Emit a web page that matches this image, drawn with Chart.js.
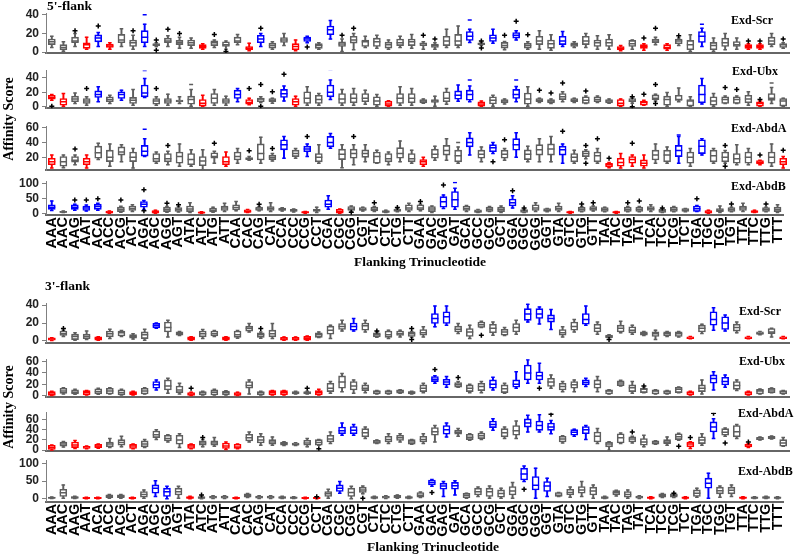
<!DOCTYPE html>
<html>
<head>
<meta charset="utf-8">
<script src="https://cdn.jsdelivr.net/npm/chart.js@4.4.0/dist/chart.umd.min.js"></script>
<style>
body { margin: 0; background: #fff; }
#wrap { position: relative; width: 797px; height: 557px; overflow: hidden; }
#wrap canvas { position: absolute; left: 0; top: 0; }
.t { position: absolute; font-family: "Liberation Serif", serif; font-weight: bold; color: #000; white-space: nowrap; line-height: 1; transform: translateY(-50%); }
.c { transform: translate(-50%, -50%); }
.v { transform: translate(-50%, -50%) rotate(-90deg); }
</style>
</head>
<body>
<div id="wrap">
  <canvas id="p1" width="797" height="557"></canvas>
  <canvas id="p2" width="797" height="557"></canvas>
  <canvas id="p3" width="797" height="557"></canvas>
  <canvas id="p4" width="797" height="557"></canvas>
  <canvas id="p5" width="797" height="557"></canvas>
  <canvas id="p6" width="797" height="557"></canvas>
  <canvas id="p7" width="797" height="557"></canvas>
  <canvas id="p8" width="797" height="557"></canvas>

  <div class="t" style="left:47px;top:6px;font-size:13.5px">5'-flank</div>
  <div class="t" style="left:45px;top:286px;font-size:13.5px">3'-flank</div>
  <div class="t v" style="left:9px;top:119px;font-size:14px">Affinity Score</div>
  <div class="t v" style="left:9px;top:407px;font-size:14px">Affinity Score</div>
  <div class="t c" style="left:420px;top:262px;font-size:13.5px">Flanking Trinucleotide</div>
  <div class="t c" style="left:433px;top:547px;font-size:13.5px">Flanking Trinucleotide</div>

  <div class="t" style="left:731px;top:20px;font-size:12px">Exd-Scr</div>
  <div class="t" style="left:732px;top:71px;font-size:12px">Exd-Ubx</div>
  <div class="t" style="left:731px;top:128px;font-size:12px">Exd-AbdA</div>
  <div class="t" style="left:731px;top:186px;font-size:12px">Exd-AbdB</div>
  <div class="t" style="left:739px;top:311px;font-size:12px">Exd-Scr</div>
  <div class="t" style="left:739px;top:361px;font-size:12px">Exd-Ubx</div>
  <div class="t" style="left:738px;top:413px;font-size:12px">Exd-AbdA</div>
  <div class="t" style="left:738px;top:471px;font-size:12px">Exd-AbdB</div>
</div>

<script>
const trinucs = ['AAA','AAC','AAG','AAT','ACA','ACC','ACG','ACT','AGA','AGC','AGG','AGT','ATA','ATC','ATG','ATT',
  'CAA','CAC','CAG','CAT','CCA','CCC','CCG','CCT','CGA','CGC','CGG','CGT','CTA','CTC','CTG','CTT',
  'GAA','GAC','GAG','GAT','GCA','GCC','GCG','GCT','GGA','GGC','GGG','GGT','GTA','GTC','GTG','GTT',
  'TAA','TAC','TAG','TAT','TCA','TCC','TCG','TCT','TGA','TGC','TGG','TGT','TTA','TTC','TTG','TTT'];

// each box: [lower whisker, q1, median, q3, upper whisker]
// colour code per trinucleotide: g = grey, r = red, b = blue

// ---- 5'-flank, Exd-Scr
const scr5Box = [[5,8,11,14,17],[1,2.5,5,8,11],[6,10,12,16,20],[3,4,8,10,16],[6,11,15,18.5,21],[3,5,6.5,8.5,10],[6,10,13,19,25],[3,6,10,13,18],
  [6,10,16,23,30],[6,7,8,9,10],[6,10,12,15,17.5],[4,8,10,12.5,16],[4,7,10,13,15],[3,4,6,8,9],[5,7,10,12,13],[3,6,8,11,12],
  [8,10,12,16,19],[1.5,2.5,4,6,9.6],[6,10,14,18,20],[3,4.3,7,9.6,11],[7,10.4,13,15.7,20],[1.5,2.5,6,9,13],[10,11.4,14,16,17],[3,4,7,9,10],
  [14,18.6,24,28,34],[0.7,6,8.6,11,14],[2.5,9.6,13,17,20],[5,6,11,13,17],[4,6,11,15,18],[3,4.3,8,10.7,13],[5,7,10,14,17],[4,7,11,14,19],
  [3,7,9,10,11],[3,5,7,8.6,10],[5,7,12,17,24.6],[5,7,12,19,28],[10.4,12.5,17,22,24.6],[7,8,9,10,10.5],[9.6,11.4,15,18.6,24.6],[2.5,4.3,7,10.4,11.4],
  [13,15,18,21,23],[3,4.3,7,9.6,11],[3,8,12,17,23],[2,4,9,13,18.6],[6,8,12,17,22],[5,6,8,10,11],[5,8,12,17,20],[3,6,10,13,17.5],
  [3,6,10,14,18.6],[1.5,2.5,4,6,7],[3,6,9,12.5,13],[2,4,6,8,9],[8,10,12,14,16],[2,3,5,8,9],[7,9,12,14,15],[0.7,2.5,8,12.5,18.6],
  [6,10.4,17,22,25.7],[0.7,2.5,7,10.4,15],[2.5,6,10,15,20],[3,6,8,11.4,15],[3,4,6,8,9],[3,4,6,8,9],[6,8,12,16,20],[4,5,8,9,10]];
const scr5Col = 'gggrbrgg' + 'bggggrgg' + 'grbggrbg' + 'bggggggg' + 'ggggbgbg' + 'bgggbggg' + 'grgrgrgg' + 'bgggrrgg';
const scr5Out = [[2,23],[4,28],[7,23],[9,13],[9,2],[10,24.5],[11,20],[14,19],[15,0.5],[18,25.7],[22,5.4],[25,18],[26,25.7],[32,18],
  [33,14],[37,12],[37,4.3],[39,18],[40,33],[41,18.6],[51,15],[52,25.7],[54,17.5],[60,12],[61,12],[63,14]];
const scr5Dash = [[8,40],[36,34.6],[56,30]];

// ---- 5'-flank, Exd-Ubx
const ubx5Box = [[9,10.6,13,16,17],[1,2.3,7,11.5,18.4],[4.6,7,11,14.7,19],[2.3,4.6,8,11.5,13.8],[7,13,17,22,27.6],[4.6,7,10,13.8,16],[9,11.5,17,20.7,23],[2.3,4.6,9,13,24],
  [13,13.8,19,30,39],[2.3,3.7,8,11.5,13.8],[2.3,4.6,8,11.5,17.5],[4.6,7,8,9.5,13.8],[1,3.7,10,14.7,24],[1,1,5,10,16],[2.3,4.6,12,18.4,24],[2.3,4.6,8,11.5,14.7],
  [7,11.5,17,23,25.3],[3,3.7,6,10,12],[6,7,11,12,14],[5,7,9,11.5,12],[8,13,18,24,28.8],[1,2.3,7,11.5,14.7],[2.3,4.6,12,20.7,27.6],[2.3,4.6,10,16,18.4],
  [10,13.8,20,30,37],[2.3,4.6,11,18.4,24],[2.3,5.5,12,18.4,25.3],[3.7,7,12,18.4,23],[1,2.3,8,13.8,17],[1,1,4,7.8,8.5],[2.3,4.6,12,18.4,27.6],[2.3,5.5,12,18.4,25.3],
  [5,5.5,8,10,11],[1,6,8,10,14.7],[3.7,7,12,20.7,25.3],[7.8,10.6,16,22,30],[7,9.2,17,23,28.8],[1,1,4,7,8],[1,4,9,13.8,16],[4,5.5,8,10,11],
  [7,11.5,17,24,28],[1,3.7,11,19,27.6],[6,7,9,11.5,12],[4.6,5.5,8,10,11],[7,10,14,18.4,20.7],[6,7,9,11.5,12],[4.6,4.6,9,13.8,15],[6,7,10,13.8,15],
  [5,5.5,8,10,11],[1,1,5,10,11],[5,7,8,11.5,12],[2.3,2.3,6,8,9],[8,10,12,16.5,17.5],[1,2.3,10,14.7,19.8],[7,9,10,16,26],[1,1,8,10,13.8],
  [4,5.5,17,30,39],[1,2.3,8,13.8,18.4],[4.6,4.6,10,13.8,15],[4.6,4.6,10,13.8,15],[2.3,5.5,11,16,20.7],[1,1,5,7,8],[4.6,9,12,18.4,26.7],[1,1,8,11.5,12]];
const ubx5Col = 'rrggbgbg' + 'bggggrgg' + 'brggbrgg' + 'bggggrgg' + 'gggbbrgg' + 'bggggggg' + 'grgrgggg' + 'bggggrgg';
const ubx5Out = [[0,1],[3,25.3],[9,25.3],[17,25.3],[18,31],[18,1],[19,20.7],[20,45],[42,23],[43,19],[44,33],[46,22],
  [50,13.8],[50,0],[51,17.5],[52,31],[52,4.6],[58,26.7],[59,24],[61,10]];
const ubx5Dash = [[8,50],[12,31],[24,51.5],[36,37],[40,37],[62,33]];

// ---- 5'-flank, Exd-AbdA
const abda5Box = [[5.7,10,14,18.7,23],[6,8,14,21,23],[10,13.5,16,21,23],[5.7,10,14,18.7,23],[17,18.7,26,35,39],[8,14.3,20,29.6,38],[14,23,27,34,37],[5.7,14.3,20,27,31.7],
  [21,21.7,28,36,44.8],[12,14,18,25,27],[10,14,18,25,28],[8,12,21,27,38],[8,10,17,25,30],[3.5,8.7,15,21,30],[12,18.7,21,26,28],[8,10,14,21,27],
  [12,16.5,21,27,31.7],[16,17,18,19.5,21],[12,16.5,25,38,47],[15,17,20,23,25],[18.7,30,37,43.5,48],[18.7,21,25,29.6,31.7],[21,27.6,31,35,38],[12,14,20,25,37],
  [32,34,40,48,52],[6,17,24,31,37],[10,18.7,25,31,37],[14,20,25,30,37],[12,12,21,27,29.6],[10,14,18,25,27],[14,18.7,25,33,42],[12,14,18,25,29.6],
  [8,10,14,17,20],[16,18.7,24,31,35],[16,23,29,36,44.8],[12,14,22,29.6,34],[23,34,40,46,53],[14,18.7,24,29.6,34],[25,27.6,33,37,40],[16,18.7,24,29.6,31.7],
  [20,29.6,37,45,53],[14,17,24,30,35],[14,23,30,37,44.8],[14,23,31,38,48],[12,23,30,35,38],[12,14,20,25,29.6],[18,21,25,28.7,30],[12,14,22,27,31.7],
  [6,7,10,12,13],[5.7,8,13,18.7,25],[8,12,17,21,23],[5.7,8,12,16.5,23],[12,16.5,23,29.6,38],[12,14,23,29.6,34],[12,21,29,36,48],[8,12,20,27,31.7],
  [23,25,35,43.5,44.8],[12,14,22,29.6,31.7],[12,14,20,27,29],[10,12,18,25,37],[10,12,20,27,31.7],[10,11,13,15.6,16],[8,12,20,27,38],[5.7,10,14,18.7,21]];
const abda5Col = 'rggrgggg' + 'bggggggr' + 'ggggbgbg' + 'bggggggg' + 'rgggbgbg' + 'bgggbggg' + 'rrrrggbg' + 'bggggrgr';
const abda5Out = [[2,31],[10,36],[14,39],[17,28.7],[19,31.7],[22,48],[26,48],[38,14],[39,43.5],[44,55],[46,36],[46,12],
  [47,44.8],[48,18.7],[50,39],[58,36],[58,8],[61,23],[63,29.6]];
const abda5Dash = [[8,57.8],[35,40],[54,50]];

// ---- 5'-flank, Exd-AbdB
const abdb5Box = [[9,13,20,28,41],[2,3,4,6,7],[10,13,20,28,30],[7,9,17,24,27],[10,13,22,30,33],[0,0.5,3,6.7,7],[3,5.5,12,20,23],[5.5,9,16,24,28],
  [12,20,30,39,42],[0,0.5,5,9,10],[3,5.5,12,20,22],[4,6,12,19,22],[2,5.5,14,24,35],[0,0.5,2,4,5],[3,4.4,10,17,20],[5.5,9,17,24,33],
  [8,11,19,28,39],[2,2.5,6,11,12],[8,9,14,20,22],[5.5,9,16,22,35],[7,9,12,17,18],[4,6,9,13,14],[0,0.5,3,5.5,6],[2,6,10,13,20],
  [13,20,30,44,58],[0,0.5,6,13,14],[6,9,14,22,24],[7,9,12,19,20],[6,8,13,20,22],[2,2.5,5,9,10],[5,6,10,14,15],[5.5,9,17,28,33],
  [8,11,17,28,30],[2,5.5,14,22,24],[16,20,38,55,61],[13,20,45,72,83],[6,9,16,24,26],[2,2.5,6,11,12],[5.5,6,13,20,22],[2,5.5,12,20,24],
  [17,24,35,47,58],[2,2.5,8,12,13],[5.5,9,17,28,35],[5,6,10,15,16],[5.5,9,16,24,33],[0,0.5,3,5.5,6],[5,6,13,20,22],[7,9,15,22,24],
  [5,6,12,19,20],[0,0.5,3,5.5,6],[5,6,12,20,22],[5,6,12,20,22],[5.5,9,15,22,28],[2,2.5,8,13,14],[5,6,12,20,22],[5,6,10,15,16],
  [5.5,6,15,24,26],[0,0.5,4,9,10],[2,5.5,10,15,24],[5,6,12,19,20],[5.5,9,17,24,33],[2,2.5,5,9,10],[5,6,12,19,20],[2,5.5,12,20,28]];
const abdb5Col = 'bgbbbrgg' + 'brgggrgg' + 'grggggrg' + 'brgggggg' + 'ggbbgggg' + 'bggggrgg' + 'grgggggg' + 'brgggrgg';
const abdb5Out = [[2,44],[3,44],[4,48],[6,44],[8,78],[8,8],[10,33],[11,28],[18,30],[26,3],[28,35],[30,19],[32,39],[34,94],
  [40,75],[41,17],[46,31],[47,35],[50,35],[51,41],[53,17],[56,48],[59,31],[62,31]];
const abdb5Dash = [[35,102]];

// ---- 3'-flank, Exd-Scr
const scr3Box = [[0.5,0.7,2,3.4,3.5],[5,6,8,11,12],[0.7,1.5,5,7.5,9],[1.5,2.5,5,7.5,11],[0.7,0.7,3,4.5,4.7],[2.6,4.5,8,11,13],[5,5.5,9,11,11.5],[2,3,5,7,8],
  [0.7,2.6,7,10,13],[14,14.5,17,19.5,20],[4.5,10,15,21,23],[6,6.5,8,10,10.5],[0.7,0.7,3,4.5,4.7],[2.6,4.5,8,11,12.7],[5,5.5,8,11,11.5],[0.7,0.7,3,4.5,4.7],
  [3,4,7,11,11.5],[10,11,14,16.5,19.4],[3,4,7,9,10],[2.6,4.5,8,12,19.4],[0.7,0.7,2,4,4.5],[0.7,0.7,2,4,4.5],[0.7,0.7,3,5,5.5],[3.7,4,7,9,10],
  [2.6,7.5,12,16.5,17.6],[11,12.7,16,19.4,23],[11,12,16,20,25],[10,12,17,20,23],[4,4.5,7,9,10],[2.6,4,7,11,12],[4.5,6,8,11,12],[4,5,8,10,10.5],
  [4.5,6.4,9,12.7,15.7],[15.7,19.4,25,30.6,39],[17.6,19.4,27,32.5,39],[8.2,10,13,16.5,19.4],[2.6,5,10,13.8,17.6],[15,15,18,21,22],[6.4,9,14,18.7,21],[6,6.4,10,13,15],
  [7.5,10,15,19.4,23],[21,23,30,36,41],[19,25,30,36,38],[12.7,21,25,29,35],[4.5,6.4,9,12.7,15.7],[10,12,16,21,24],[17.6,18.7,24,30.6,39],[7.5,10,14,18.7,21],
  [3.7,3.7,5,6.4,7],[9,10,14,17.6,22],[7.5,9,12,15.7,17.6],[6,6.5,8,10,10.5],[1.5,5,8,10,12],[5,5.5,8,10,10.5],[4.5,5,8,10,10.5],[2.5,2.6,3,4.5,5],
  [8.2,10,14,17.6,18.7],[12,17.6,24,32.5,37],[11,12.7,20,27,28.8],[9,11,15,18.7,21],[2.5,2.6,3,4.5,5],[7,7.5,8,10,10.5],[4.5,8.2,10,13.8,14],[2.5,2.6,3,4.5,5]];
const scr3Col = 'rgggrggg' + 'gbggrggr' + 'ggggrrrg' + 'ggbggggg' + 'gbbggggg' + 'gbbbggbg' + 'gggggggr' + 'gbbgrggr';
const scr3Out = [[1,13.8],[18,13.8],[28,11],[31,13.8],[31,1.5],[37,6.4],[48,1.5]];
const scr3Dash = [];

// ---- 3'-flank, Exd-Ubx
const ubx3Box = [[0,0.5,3,7,7.5],[3,4,8,13,14],[2.5,3,6,10,11],[1,1.2,5,8.8,9],[2.5,3,7,11.8,13],[3,3,8,13,14],[1,1.2,5,10,11],[1,1.2,4,7,7.5],
  [3,3,8,13,14],[10,13,19,24.7,27.6],[4,10,17,27.6,30.6],[3,5.3,10,17,21.7],[0,0.5,3,5.3,6],[1,1.2,5,7,7.5],[1,1.2,6,10,11],[1,1.2,5,8,8.5],
  [0,0.5,3,5.3,6],[3,13,18,24.7,27.6],[1,1.2,5,7,7.5],[1,1.2,5,8.8,9],[1,1.2,5,8.8,9],[3,3,5,7,7.5],[3,3,5,7,7.5],[1,1.2,5,8.8,11],
  [4,7,13,21.7,24.7],[7,13,24,34.7,39],[4,10,17,24.7,27.6],[5,8.8,13,18.8,21.7],[3,3,7,8.8,9],[3,3,7,8.8,9],[4,4.5,8,10,10.5],[3,3,6,7,7.5],
  [5,7,13,18.8,21.7],[21.7,24.7,29,33.5,35],[14.7,18.8,24,28.8,33.5],[14.7,15,19,23,24.7],[5,7,13,18.8,20],[5,8.8,16,21.7,24.7],[10,13,20,27.6,32.3],[4,5.3,12,18.8,21.7],
  [13,14.7,20,27.6,42],[21.7,27.6,40,54,63],[21.7,27.6,35,42,57],[13,16,24,30.6,36.5],[7,10,16,21.7,24.7],[7,13,19,24.7,27.6],[16,18.8,23,27.6,30.6],[7,13,20,27.6,33.5],
  [3,3,8,10,10.5],[17,17.6,22,26,27],[4,7,14,18.8,24.7],[5,5.3,11,13,13.5],[3,3,8,10,10.5],[3,3,7,8.8,9],[5,5.3,11,14.7,15],[1,1.2,5,7,7.5],
  [3,7,13,18.8,27.6],[10,21.7,30,36.5,42],[14.7,18.8,25,32.3,36.5],[8.8,11,18,24.7,27.6],[1,1.2,5,7,7.5],[3,3,8,11,11.5],[5,5.3,10,13,13.5],[3,3,7,8.8,9]];
const ubx3Col = 'rggrgggr' + 'gbggrggg' + 'rggrrggr' + 'gggggggg' + 'gbbgggbg' + 'bbbgggbg' + 'gggggggr' + 'gbbgrggg';
const ubx3Out = [[12,13],[22,13],[33,46],[35,32],[42,13],[51,17]];
const ubx3Dash = [];

// ---- 3'-flank, Exd-AbdA
const abda3Box = [[0,1.3,5,9.7,10],[6,7.7,12,16,17],[3.2,5,10,16,19],[3,3.2,6,7.7,8],[4,5,8,11.6,12],[5,6.5,12,16,22.6],[6.5,9.7,15,20.6,27],[3,3.2,8,11.6,12],
  [5,6.5,12,18,20.6],[20.6,24.5,30,37.4,40],[16,18,23,29,30],[5,11.6,20,29,32],[3,3.2,8,11.6,12],[6.5,9.7,14,18,20.6],[7.7,9.7,14,18,24.5],[1.3,3.2,8,14,16],
  [3,3.2,6,11.6,12],[16,18,24,31,35.5],[9.7,14,20,27,32],[9.7,11.6,16,20.6,25.8],[9,9.7,13,16,16.5],[9,9.7,11,14,14.5],[6.5,9.7,14,19.4,22.6],[9.7,9.7,15,20.6,21],
  [12.9,16,22,29,35.5],[29,32,38,45,53],[29,32,39,46,50],[22.6,26,34,42,45],[12.9,13,16,19.4,20],[12.9,16,21,27,32],[16,19,24,29,32],[11.6,11.6,16,20.6,21],
  [12.9,16,21,27,32],[16,29,36,44,48],[25.8,31,40,48,53],[27,31,35,39,42],[19.4,20.6,25,31,32],[20.6,22.6,28,33.5,35.5],[38.7,44,50,56.8,61],[22.6,26,34,42,45],
  [22.6,29,38,48,56.8],[35.5,45,53,61,68],[35.5,38.7,48,56.8,69],[32,38.7,45,53,58],[14,16,22,27,28],[27,29,35,40,41],[20.6,32,40,46,48],[12.9,16,27,35.5,42],
  [0,6.5,12,16,16.5],[12.9,14,24,32,33.5],[14,16,22,26,27],[6.5,9.7,16,22.6,29],[11.6,11.6,16,18,18.5],[9.7,12.9,16,20.6,25.8],[19.4,20.6,26,32,33],[3.2,6.5,12,16,16.5],
  [9.7,12.9,20,26,32],[22.6,35.5,45,55,61],[27,29,35,42,43],[22.6,26,36,48,50],[5,6.5,10,12,12.5],[20,20.6,22,25,25.5],[22,22.6,24,27,27.5],[7.7,7.7,14,20.6,24.5]];
const abda3Col = 'rgrrrggr' + 'ggggrggr' + 'rggggggg' + 'gbbggggg' + 'ggbgggbg' + 'gbbbgbbg' + 'gggggggr' + 'gbggrggg';
const abda3Out = [[13,24.5],[23,3],[43,70],[50,35.5],[54,7.7],[55,24.5],[57,72],[58,14],[60,16]];
const abda3Dash = [];

// ---- 3'-flank, Exd-AbdB
const abdb3Box = [[1,1.5,3,4.7,5],[2,6.5,17,27,39],[1,1.5,4,6.5,7],[0.5,1,2,4,4.5],[0.5,1,2,4,4.5],[2,3,7,11,12],[2,3,7,11,12],[0.5,1,2,4,4.5],
  [2,4.7,12,20.6,25],[6.5,16,30,39,51],[0,6.5,20,30,35],[2,11,20,30,35],[0.5,1,3,6.5,7],[0.5,1,3,6.5,7],[1,2,5,8,9],[1,2,5,8,9],
  [0.5,1,2,4,4.5],[4,5,9,14,15],[1,2,5,8,9],[1,2,5,8,9],[1,1.5,4,6.5,7],[1,1.5,3,5.5,6],[0.5,1,2,4,4.5],[0.5,1,2,4,4.5],
  [2,6.5,14,20.6,27],[16,20.6,30,39,48.6],[0,6.5,18,30,35],[14,17.8,25,32.7,36],[1,1.5,4,6.5,7],[1,2,5,8,9],[2,2.5,6,10,11],[1,1.5,4,6.5,7],
  [4,4.7,10,17.8,19],[35,39,46,53,54],[6.5,27,36,44,48.6],[11,27,37,46,51],[2,3,10,15.7,16],[6.5,11,20,30,33],[2,6.5,20,30,36],[2,4.7,15,25,30],
  [2,11,22,34.6,46],[48.6,53,70,86,92],[2,25,38,62.6,86],[6.5,20.6,36,48.6,58],[6.5,6.5,10,17.8,18],[4.7,11,18,27,33],[6.5,16,25,34.6,48.6],[2,11,22,32.7,39],
  [1,1.5,3,6.5,7],[8,11,17,23,24],[2,4.7,12,20.6,25],[1,2,5,8,9],[0.5,1,3,5.5,6],[4,4.7,10,14,15],[4,4.7,10,14,15],[0.5,1,3,5.5,6],
  [4.7,6.5,16,25,30],[2,30,44,58,72],[4.7,14,23,32.7,36],[6.5,14,24,32.7,39],[0.5,1,3,5.5,6],[1,1.5,3,5.5,6],[1,1.5,4,6.5,7],[0.5,1,3,5.5,6]];
const abdb3Col = 'gggrrggr' + 'gbbgrggg' + 'rgggggrr' + 'gbgggggg' + 'gbbbgggg' + 'gbbbgggg' + 'ggggrggr' + 'gbggrggg';
const abdb3Out = [[13,11],[23,6],[27,2],[33,17.8],[41,27],[54,16]];
const abdb3Dash = [];

const palette = { g: '#5e5e5e', r: '#ff0000', b: '#0000ff' };
Chart.defaults.font.family = 'Liberation Sans';

const labelBand = 40;  // room kept under the bottom panels for the rotated labels

function drawPanel(id, box, col, out, dash, yMin, yMax, yTicks, top, bottom, showX) {
  const cols = col.split('').map(c => palette[c]);
  const pts = arr => arr.map(p => ({ x: trinucs[p[0]], y: p[1] }));
  const marker = (data, style, radius, colour) => ({
    type: 'line', data: data, showLine: false, pointStyle: style, pointRadius: radius,
    pointBorderWidth: 1.5, pointBorderColor: colour, pointBackgroundColor: colour
  });
  const xHeight = showX ? labelBand : 0;

  new Chart(document.getElementById(id), {
    type: 'bar',
    data: {
      labels: trinucs,
      datasets: [
        { data: box.map(b => [b[0], b[4]]), backgroundColor: cols, barThickness: 1.3, grouped: false, order: 5 },
        { data: box.map(b => [b[1], b[3]]), backgroundColor: '#ffffff', borderColor: cols, borderWidth: 1.6,
          borderSkipped: false, barThickness: 7, grouped: false, order: 4 },
        Object.assign(marker(box.map(b => b[2]), 'line', 3.5, cols), { order: 3 }),
        Object.assign(marker(box.map(b => b[0]), 'line', 1.8, cols), { order: 3 }),
        Object.assign(marker(box.map(b => b[4]), 'line', 1.8, cols), { order: 3 }),
        Object.assign(marker(pts(out), 'cross', 2.5, '#000000'), { order: 1 }),
        Object.assign(marker(pts(dash), 'line', 2, dash.map(d => cols[d[0]])), { order: 1 })
      ]
    },
    options: {
      responsive: false,
      animation: false,
      events: [],
      layout: { padding: { left: 6, right: 8, top: top, bottom: 557 - bottom - xHeight } },
      plugins: { legend: { display: false }, tooltip: { enabled: false } },
      scales: {
        x: {
          afterFit: ax => { ax.height = xHeight; },
          grid: { display: false, drawTicks: false },
          border: { display: true, color: '#666666', width: 2 },
          ticks: { display: showX, autoSkip: false, minRotation: 90, maxRotation: 90, padding: 2,
                   color: '#000', font: { size: 14.5, weight: 'bold' } }
        },
        y: {
          min: yMin, max: yMax,
          afterBuildTicks: ax => { ax.ticks = yTicks.map(v => ({ value: v })); },
          afterFit: ax => { ax.width = 40; },
          grid: { drawOnChartArea: false, tickLength: 4, color: '#808080' },
          border: { color: '#808080', width: 1 },
          ticks: { autoSkip: false, padding: 3, color: '#222', font: { size: 12, weight: 'bold' } }
        }
      }
    }
  });
}

drawPanel('p1', scr5Box, scr5Col, scr5Out, scr5Dash, -1, 42, [0, 20, 40], 13, 53, false);
drawPanel('p2', ubx5Box, ubx5Col, ubx5Out, ubx5Dash, -2, 50, [0, 20, 40], 70.6, 108.3, false);
drawPanel('p3', abda5Box, abda5Col, abda5Out, abda5Dash, 3, 62, [20, 40, 60], 126, 170, false);
drawPanel('p4', abdb5Box, abdb5Col, abdb5Out, abdb5Dash, -6, 105, [0, 50, 100], 181.7, 215, true);
drawPanel('p5', scr3Box, scr3Col, scr3Out, scr3Dash, -2, 42, [0, 20, 40], 303.3, 342.7, false);
drawPanel('p6', ubx3Box, ubx3Col, ubx3Out, ubx3Dash, -3, 64, [0, 20, 40, 60], 359.3, 397.3, false);
drawPanel('p7', abda3Box, abda3Col, abda3Out, abda3Dash, -1, 73, [0, 20, 40, 60], 412.7, 450.7, false);
drawPanel('p8', abdb3Box, abdb3Col, abdb3Out, abdb3Dash, -8, 109, [0, 50, 100], 460, 501.7, true);
</script>
</body>
</html>
